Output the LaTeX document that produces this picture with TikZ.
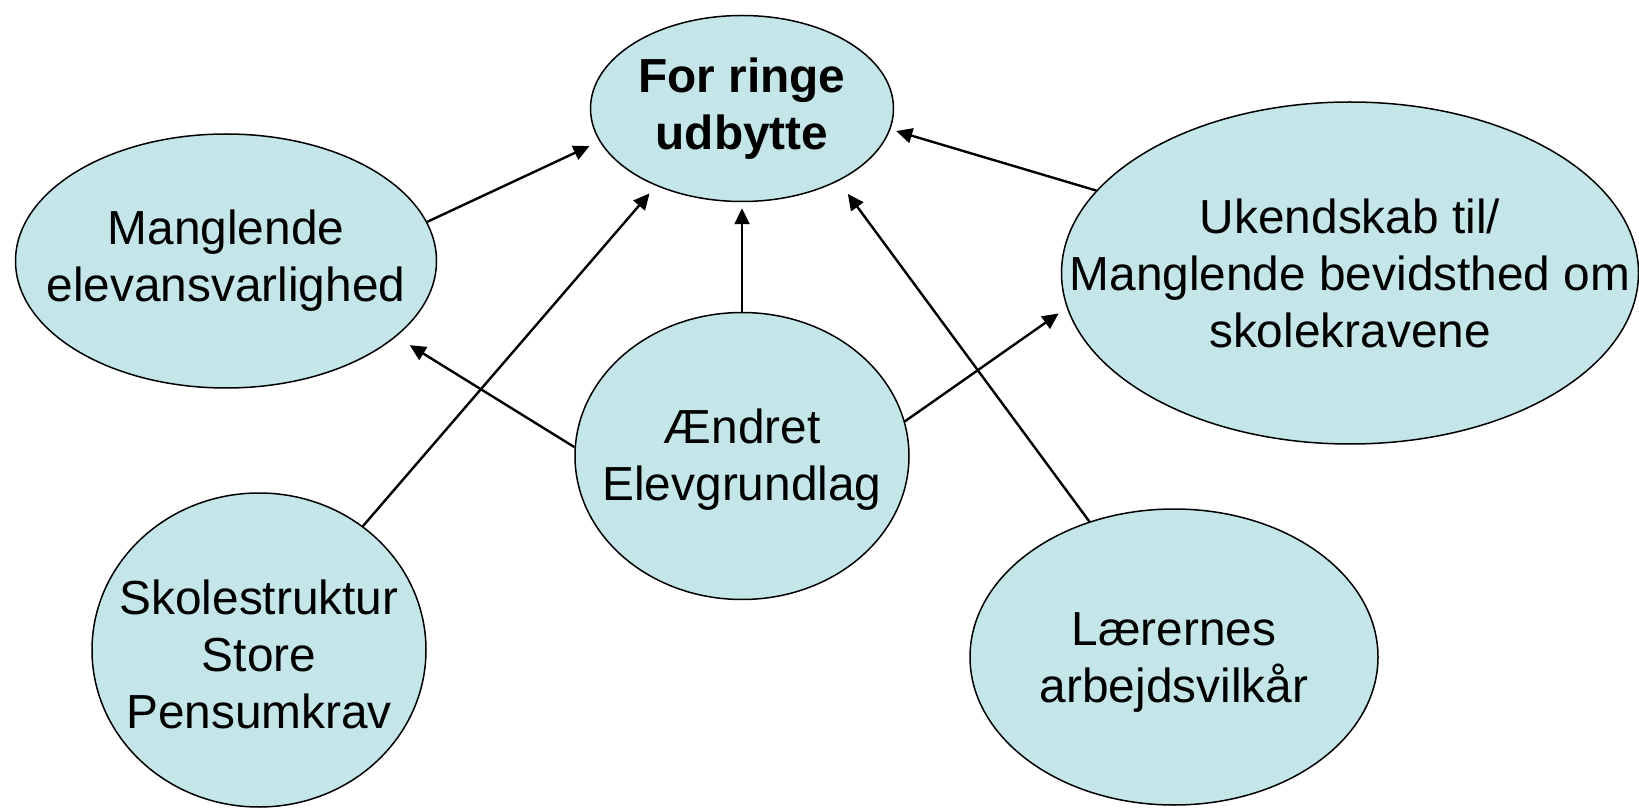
\documentclass[tikz,border=0pt]{standalone}
\usepackage{fontspec}
\setmainfont{Liberation Sans}
\usetikzlibrary{shapes.geometric,arrows.meta}
\definecolor{bubblefill}{RGB}{196,230,233}

\begin{document}
\begin{tikzpicture}[x=0.5pt, y=0.5pt,
  bubble/.style={draw, ellipse, fill=bubblefill, line width=0.75pt, inner sep=0pt},
  txt/.style={align=center, font=\fontsize{23.9}{28.5}\selectfont},
  txtbold/.style={align=center, font=\fontsize{23.9}{28.5}\selectfont\bfseries},
  link/.style={-{Triangle[length=8pt,width=7.5pt]}, line width=1.2pt}]
  \useasboundingbox (0,0) rectangle (1639,810);
  % bubbles
  \node[bubble, minimum width=151.5pt, minimum height=93pt] (ringe) at (742,701.5) {};
  \node[bubble, minimum width=210.5pt, minimum height=127pt] (mangl) at (226,549) {};
  \node[bubble, minimum width=288.5pt, minimum height=171pt] (ukend) at (1350,537) {};
  \node[bubble, minimum width=167pt, minimum height=143.5pt] (aendr) at (742,354) {};
  \node[bubble, minimum width=167pt, minimum height=157pt] (skole) at (259,160) {};
  \node[bubble, minimum width=204pt, minimum height=148pt] (laerer) at (1174,153) {};
  % texts
  \node[txtbold] (ringe-t) at (ringe) {For ringe\\udbytte};
  \node[txt] (mangl-t) at (mangl) {Manglende\\elevansvarlighed};
  \node[txt] (ukend-t) at (ukend) {Ukendskab til/\\Manglende bevidsthed om\\skolekravene};
  \node[txt] (aendr-t) at ([yshift=-2pt]aendr) {Ændret\\Elevgrundlag};
  \node[txt] (skole-t) at ([yshift=-2pt]skole) {Skolestruktur\\Store\\Pensumkrav};
  \node[txt] (laerer-t) at ([yshift=-3pt]laerer) {Lærernes\\arbejdsvilkår};
  % arrows
  \draw[link, shorten >=5.5pt] (mangl.11) -- (ringe.193.5);
  \draw[link, shorten >=5pt] (skole.50) -- (ringe.222.3);
  \draw[link, shorten >=3pt] (aendr.90) -- (ringe.270);
  \draw[link, shorten >=8pt] (laerer.122.4) -- (ringe.323.8);
  \draw[link, shorten >=3pt] (ukend.162.7) -- (ringe.352);
  \draw[link, shorten >=8pt] (aendr.177.3) -- (mangl.336.5);
  \draw[link, shorten >=5pt] (aendr.12.8) -- (ukend.187.1);
\end{tikzpicture}
\end{document}
